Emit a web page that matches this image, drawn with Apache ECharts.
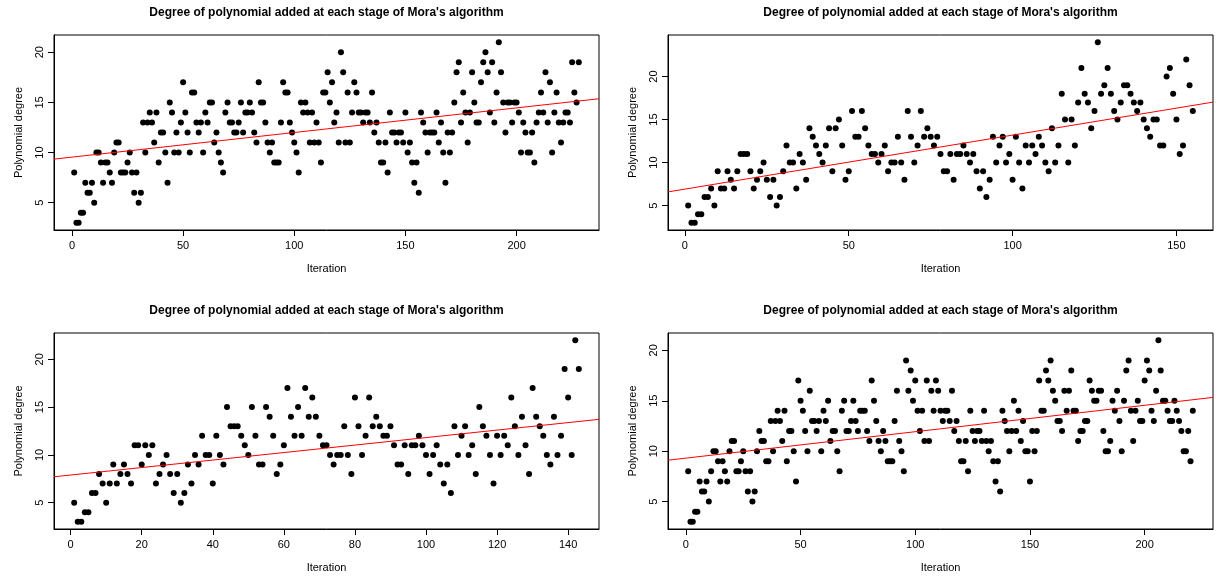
<!DOCTYPE html>
<html>
<head>
<meta charset="utf-8">
<script src="https://cdn.jsdelivr.net/npm/echarts@6/dist/echarts.min.js"></script>
<style>
html,body{margin:0;padding:0;background:#fff;}
#chart{width:1224px;height:579px;}
</style>
</head>
<body>
<div id="chart"></div>
<script>
// ---------------- data ----------------
const panelTitle = "Degree of polynomial added at each stage of Mora's algorithm";
const xAxisLabel = "Iteration";
const yAxisLabel = "Polynomial degree";

// degree at iterations 1..N (top-left)
const degrees1 = [8,3,3,4,4,7,6,6,7,5,10,10,9,7,9,9,8,7,10,11,11,8,8,8,9,10,8,6,8,5,
6,13,10,13,14,13,11,14,9,12,12,10,7,15,14,10,12,10,13,17,14,12,10,16,16,13,12,13,10,14,
13,15,15,11,12,10,9,8,14,15,13,13,12,12,13,15,12,14,14,15,14,12,11,17,15,15,13,11,10,11,
9,9,9,13,17,16,16,13,12,11,10,8,15,14,15,14,11,14,11,13,11,9,16,16,18,15,17,13,14,11,
20,18,11,16,11,14,17,16,14,14,13,14,14,13,16,12,13,11,9,9,11,8,14,12,12,11,12,12,11,14,
10,11,9,7,9,6,14,13,12,10,12,12,12,14,11,13,10,7,12,10,12,15,18,19,13,16,14,11,14,18,
15,13,13,17,19,20,18,14,19,13,16,21,18,15,12,15,15,13,15,15,14,10,13,12,10,10,12,9,13,14,
16,14,18,13,17,10,14,16,13,11,13,14,14,13,19,16,15,19];

// top-right
const degrees2 = [5,3,3,4,4,6,6,7,5,9,7,7,9,8,7,9,11,11,11,9,7,8,9,10,8,6,8,5,6,9,
12,10,10,7,11,10,8,14,13,12,11,10,12,14,9,14,15,12,8,9,16,13,13,16,14,12,11,11,10,11,
12,9,10,10,13,10,8,16,13,10,12,16,13,14,13,12,13,11,9,9,11,8,11,11,12,11,10,11,9,7,
9,6,8,13,10,12,13,10,11,8,13,10,7,12,10,12,11,13,12,10,9,14,10,12,18,15,10,15,12,17,
21,18,17,14,16,24,18,19,21,18,16,15,17,19,19,18,17,16,17,15,14,13,15,15,12,12,20,21,18,15,
11,12,22,19,16];

// bottom-left
const degrees3 = [5,3,3,4,4,6,6,8,7,5,7,9,7,8,9,8,7,11,11,9,11,10,11,7,8,9,10,8,6,8,
5,6,9,7,10,9,12,10,10,7,12,10,9,15,13,13,13,12,11,10,15,12,9,9,15,14,12,8,9,11,
17,14,12,15,12,17,14,16,14,12,11,11,10,9,10,10,13,10,8,16,13,10,12,16,13,14,13,12,12,13,
11,9,9,11,8,11,11,12,11,10,8,10,11,9,7,9,6,13,10,12,13,10,11,8,15,13,12,10,7,12,
10,12,11,16,13,10,14,11,8,17,14,13,12,10,9,14,10,12,19,16,10,22,19];

// bottom-right
const degrees4 = [8,3,3,4,4,7,6,6,7,5,8,10,10,9,7,9,8,7,10,11,11,8,8,9,10,8,6,8,5,6,
10,12,11,11,9,9,13,10,13,14,13,11,14,9,12,12,10,7,17,15,14,12,10,16,13,13,12,13,10,14,
13,15,11,12,12,10,8,14,15,12,12,13,15,13,12,14,14,14,12,11,17,15,13,11,10,12,11,9,9,9,
13,16,11,10,8,19,16,18,15,17,14,12,14,11,17,11,16,14,17,16,14,13,14,14,13,16,12,13,11,9,
9,11,8,14,12,11,12,12,11,14,11,10,11,9,7,9,6,14,13,12,10,12,15,12,14,11,13,10,10,7,
12,10,12,17,14,14,18,17,19,16,15,13,13,12,16,14,16,18,14,14,11,12,12,13,13,17,16,15,15,16,
16,12,10,10,11,15,14,16,13,10,15,18,19,14,11,14,15,13,13,17,19,18,14,13,16,21,18,15,15,14,
13,13,15,14,13,12,10,10,12,9,14];

// tick labels
const xTicks1 = [0,50,100,150,200];
const xTicks2 = [0,50,100,150];
const xTicks3 = [0,20,40,60,80,100,120,140];
const xTicks4 = [0,50,100,150,200];
const yTicks = [5,10,15,20];

// ---------------- helpers ----------------
function rRange(lo, hi){ const d = (hi - lo) * 0.04; return [lo - d, hi + d]; }
function toPoints(vals){ return vals.map((v,i)=>[i+1, v]); }
function lsFit(vals){
  const n = vals.length;
  let sx=0, sy=0, sxx=0, sxy=0;
  vals.forEach((v,i)=>{ const x=i+1; sx+=x; sy+=v; sxx+=x*x; sxy+=x*v; });
  const b = (n*sxy - sx*sy)/(n*sxx - sx*sx);
  const a = (sy - b*sx)/n;
  return [a,b];
}

const FONT = "Liberation Sans, Arial, Helvetica, sans-serif";
const panels = [
  {vals: degrees1, xt: xTicks1, box:{left:54, top:35, width:545, height:195}},
  {vals: degrees2, xt: xTicks2, box:{left:668, top:35, width:545, height:195}},
  {vals: degrees3, xt: xTicks3, box:{left:54, top:333, width:545, height:196}},
  {vals: degrees4, xt: xTicks4, box:{left:668, top:333, width:545, height:196}}
];

const option = {animation:false, backgroundColor:'#fff', title:[], grid:[], xAxis:[], yAxis:[], series:[]};

panels.forEach((p, k)=>{
  const xr = rRange(1, p.vals.length);
  const yr = rRange(Math.min(...p.vals), Math.max(...p.vals));
  option.grid.push(Object.assign({show:true, borderColor:'#000', borderWidth:1, backgroundColor:'transparent'}, p.box));
  option.title.push({
    text: panelTitle, left: p.box.left + p.box.width/2, top: p.box.top - 28, textAlign:'center', padding:0,
    textStyle:{fontSize:12, fontWeight:'bold', color:'#000', fontFamily:FONT}
  });
  option.xAxis.push({
    gridIndex:k, type:'value', min:xr[0], max:xr[1], position:'bottom',
    splitLine:{show:false}, axisLine:{show:true, onZero:false, lineStyle:{color:'#000', width:1}},
    axisTick:{show:true, length:6, customValues:p.xt, lineStyle:{color:'#000', width:1}},
    axisLabel:{customValues:p.xt, color:'#000', fontSize:11, fontFamily:FONT, margin:10},
    name:xAxisLabel, nameLocation:'middle', nameGap:33,
    nameTextStyle:{color:'#000', fontSize:11, fontFamily:FONT}
  });
  option.yAxis.push({
    gridIndex:k, type:'value', min:yr[0], max:yr[1], position:'left',
    splitLine:{show:false}, axisLine:{show:true, onZero:false, lineStyle:{color:'#000', width:1}},
    axisTick:{show:true, length:6, customValues:yTicks, lineStyle:{color:'#000', width:1}},
    axisLabel:{customValues:yTicks, color:'#000', fontSize:11, fontFamily:FONT, rotate:90, margin:9},
    name:yAxisLabel, nameLocation:'middle', nameGap:30,
    nameTextStyle:{color:'#000', fontSize:11, fontFamily:FONT}
  });
  option.series.push({
    type:'scatter', xAxisIndex:k, yAxisIndex:k, data:toPoints(p.vals),
    symbol:'circle', symbolSize:6, itemStyle:{color:'#000', opacity:1}
  });
  const [a,b] = lsFit(p.vals);
  option.series.push({
    type:'line', xAxisIndex:k, yAxisIndex:k, showSymbol:false, symbol:'none', clip:true,
    data:[[xr[0], a + b*xr[0]], [xr[1], a + b*xr[1]]],
    lineStyle:{color:'#ff0000', width:1}, z:3
  });
});

const chart = echarts.init(document.getElementById('chart'), null, {renderer:'canvas'});
chart.setOption(option);
</script>
</body>
</html>
